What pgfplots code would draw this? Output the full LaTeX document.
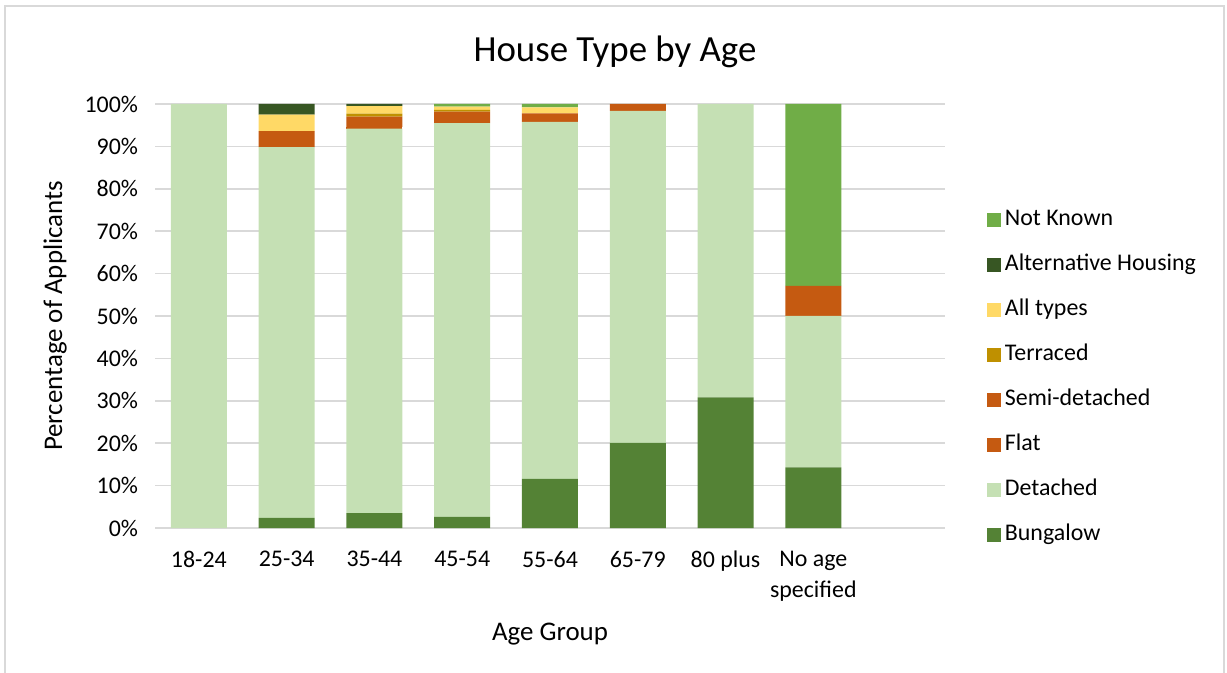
\documentclass[border=0pt]{standalone}
\usepackage{fontspec}
\setmainfont{Carlito}
\usepackage{pgfplots}
\pgfplotsset{compat=1.18}
\usepackage{pgfplotstable}

\definecolor{cBung}{HTML}{548235}
\definecolor{cDet}{HTML}{C5E0B4}
\definecolor{cFlat}{HTML}{C55A11}
\definecolor{cSemi}{HTML}{C55A11}
\definecolor{cTerr}{HTML}{BF9000}
\definecolor{cAll}{HTML}{FFD966}
\definecolor{cAlt}{HTML}{375623}
\definecolor{cNK}{HTML}{70AD47}
\definecolor{cGrid}{HTML}{D9D9D9}

% columns: Bungalow, Detached, Flat, Semi-detached, Terraced, All types, Alternative Housing, Not Known
\pgfplotstableread{
x bung det flat semi terr all alt nk
0 0    100  0   0   0   0   0   0
1 2.4  87.4 0   3.8 0   3.9 2.5 0
2 3.5  90.7 0.4 2.4 0.7 1.8 0.5 0
3 2.6  92.9 0   2.7 0.4 0.8 0   0.6
4 11.6 84.2 0   2.0 0   1.4 0   0.8
5 20.1 78.3 0   1.6 0   0   0   0
6 30.8 69.2 0   0   0   0   0   0
7 14.3 35.7 0   7.1 0   0   0   42.9
}\housedata

\begin{document}
\begin{tikzpicture}
\useasboundingbox (-77.5bp,-72.5bp) rectangle (536bp,264bp);
\draw[gray!30, line width=1bp] (-75bp,-80bp) -- (-75bp,261bp) -- (534.5bp,261bp) -- (534.5bp,-80bp);
\begin{axis}[
  at={(0,0)}, anchor=south west,
  scale only axis, width=395bp, height=212bp,
  ybar stacked, bar width=28bp,
  xmin=-0.5, xmax=8.5, ymin=0, ymax=100,
  xtick={0,...,7},
  xticklabels={18-24,25-34,35-44,45-54,55-64,65-79,80 plus,{No age\\specified}},
  xticklabel style={align=center, font=\fontsize{12}{15.5}\selectfont, yshift=-8bp},
  ytick={0,10,...,100},
  yticklabel={\pgfmathprintnumber{\tick}\%},
  /pgf/number format/assume math mode=true,
  yticklabel style={font=\fontsize{12}{14}\selectfont, xshift=-5bp},
  major tick length=0pt,
  axis line style={draw=none},
  ymajorgrids, grid style={cGrid, line width=0.8bp},
  xlabel={Age Group}, ylabel={Percentage of Applicants},
  xlabel style={font=\fontsize{13.5}{16}\selectfont, yshift=-4bp},
  ylabel style={font=\fontsize{13.5}{16}\selectfont, yshift=2bp},
  legend reversed,
  legend cell align=left,
  legend style={draw=none, fill=none, at={(1.045,0.772)}, anchor=north west,
    font=\fontsize{12}{14}\selectfont, row sep=8bp,
    nodes={text height=8bp, text depth=2.5bp, inner sep=2bp}},
  legend image code/.code={\fill[#1] (0bp,-3.5bp) rectangle (7bp,3.5bp);},
  every axis plot/.append style={draw=none},
]
\addplot[fill=cBung] table[x=x, y=bung] {\housedata};
\addlegendentry{Bungalow}
\addplot[fill=cDet] table[x=x, y=det] {\housedata};
\addlegendentry{Detached}
\addplot[fill=cFlat] table[x=x, y=flat] {\housedata};
\addlegendentry{Flat}
\addplot[fill=cSemi] table[x=x, y=semi] {\housedata};
\addlegendentry{Semi-detached}
\addplot[fill=cTerr] table[x=x, y=terr] {\housedata};
\addlegendentry{Terraced}
\addplot[fill=cAll] table[x=x, y=all] {\housedata};
\addlegendentry{All types}
\addplot[fill=cAlt] table[x=x, y=alt] {\housedata};
\addlegendentry{Alternative Housing}
\addplot[fill=cNK] table[x=x, y=nk] {\housedata};
\addlegendentry{Not Known}
\end{axis}
\node[font=\fontsize{18.5}{22}\selectfont] at (230bp,238bp) {House Type by Age};
\end{tikzpicture}
\end{document}
